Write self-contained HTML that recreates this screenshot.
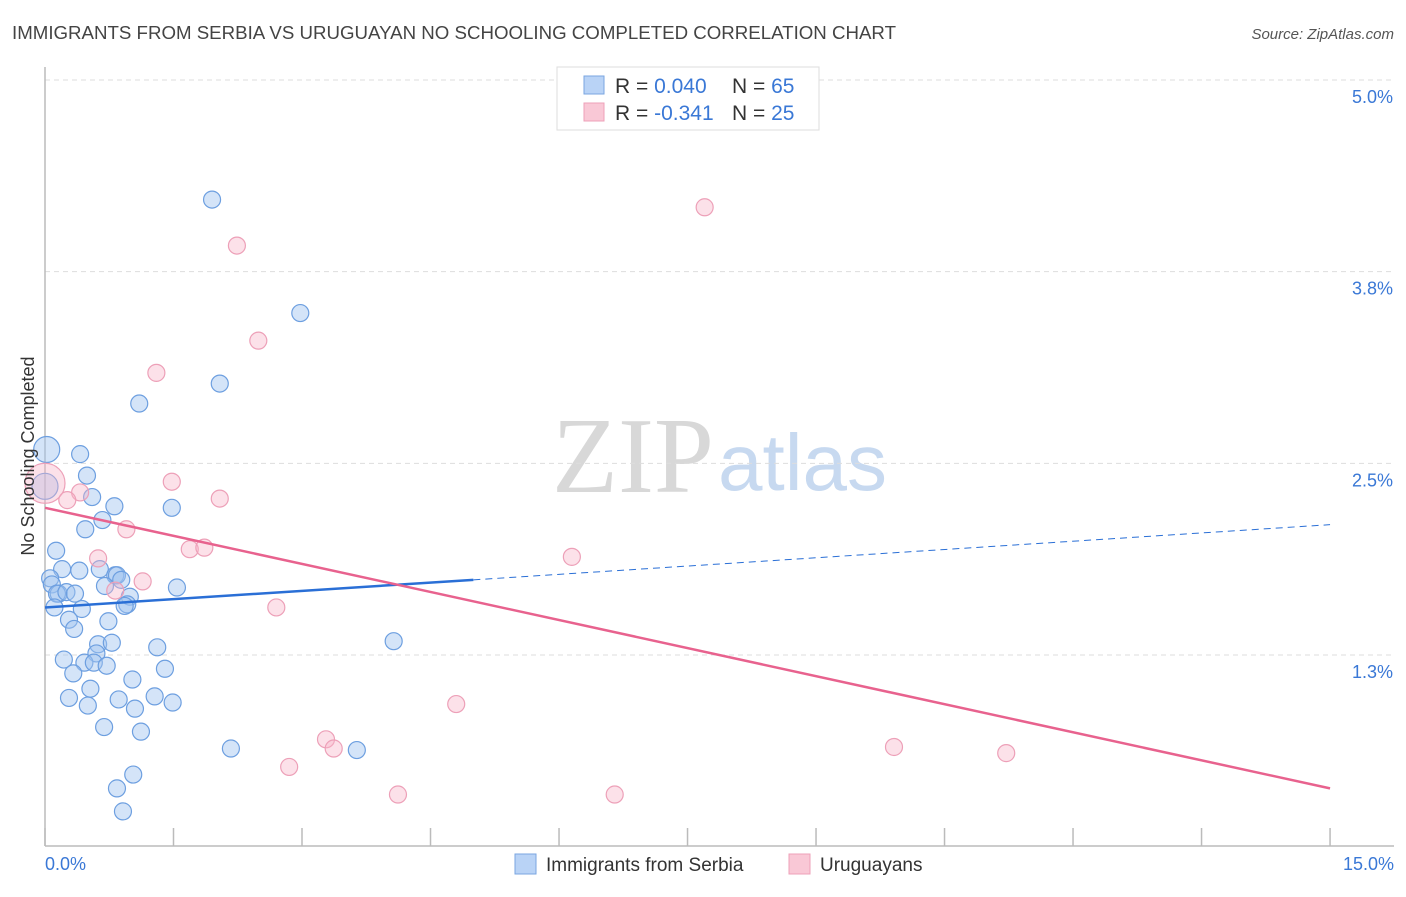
<!DOCTYPE html>
<html><head><meta charset="utf-8"><style>
body{margin:0;background:#fff;font-family:"Liberation Sans",sans-serif}
</style></head><body>
<svg id="c" width="1406" height="892" xmlns="http://www.w3.org/2000/svg">
<text x="12" y="39" font-size="18" fill="#444" textLength="884" lengthAdjust="spacingAndGlyphs">IMMIGRANTS FROM SERBIA VS URUGUAYAN NO SCHOOLING COMPLETED CORRELATION CHART</text>
<text x="1394" y="39" font-size="15" fill="#555" font-style="italic" text-anchor="end">Source: ZipAtlas.com</text>
<text x="714" y="492" font-size="108" font-family="Liberation Serif" fill="#d8d8d8" text-anchor="end">ZIP</text>
<text x="718" y="490" font-size="80" fill="#c7d9f0">atlas</text>
<g id="grid"></g><g id="axes"></g><g id="marks"></g>
<text transform="translate(34,456) rotate(-90)" font-size="18" fill="#333" text-anchor="middle">No Schooling Completed</text>
<g>
<rect x="557" y="67" width="262" height="63" fill="#fff" stroke="#ddd"/>
<rect x="584" y="76" width="20" height="18" fill="#b9d3f6" stroke="#7aa6e0"/>
<rect x="584" y="103" width="20" height="18" fill="#f9c8d6" stroke="#eea0b8"/>
<text x="615" y="93" font-size="21" fill="#333">R = <tspan fill="#3a78d6">0.040</tspan><tspan x="732">N = </tspan><tspan fill="#3a78d6">65</tspan></text>
<text x="615" y="120" font-size="21" fill="#333">R = <tspan fill="#3a78d6">-0.341</tspan><tspan x="732">N = </tspan><tspan fill="#3a78d6">25</tspan></text>
</g>
<g>
<rect x="515" y="854" width="21" height="20" fill="#b9d3f6" stroke="#7aa6e0"/>
<text x="546" y="871" font-size="19" fill="#333">Immigrants from Serbia</text>
<rect x="789" y="854" width="21" height="20" fill="#f9c8d6" stroke="#eea0b8"/>
<text x="820" y="871" font-size="19" fill="#333">Uruguayans</text>
</g>
</svg>
<script>
const blueX=[1.95,2.98,2.04,1.10,0.02,0.41,0.49,0.00,0.55,1.48,0.81,0.67,0.47,0.13,0.20,0.40,0.64,0.82,0.84,0.89,0.06,0.08,0.16,0.14,0.25,0.35,0.70,0.99,0.96,0.93,1.54,0.11,0.43,0.28,0.74,0.34,1.31,0.62,0.78,0.60,4.07,0.22,0.46,0.57,0.72,1.40,0.33,1.02,0.53,0.28,1.28,0.86,1.49,0.50,1.05,0.69,1.12,2.17,3.64,1.03,0.84,0.91];
const blueY=[4.22,3.48,3.02,2.89,2.59,2.56,2.42,2.35,2.28,2.21,2.22,2.13,2.07,1.93,1.81,1.80,1.81,1.77,1.77,1.74,1.75,1.71,1.65,1.65,1.66,1.65,1.70,1.63,1.58,1.57,1.69,1.56,1.55,1.48,1.47,1.42,1.30,1.32,1.33,1.26,1.34,1.22,1.20,1.20,1.18,1.16,1.13,1.09,1.03,0.97,0.98,0.96,0.94,0.92,0.90,0.78,0.75,0.64,0.63,0.47,0.38,0.23];
const pinkX=[2.24,7.70,2.49,1.30,1.48,0.00,0.41,0.26,2.04,0.95,0.62,1.69,1.86,1.14,0.82,6.15,2.70,4.80,3.28,3.37,2.85,4.12,6.65,9.91,11.22];
const pinkY=[3.92,4.17,3.30,3.09,2.38,2.37,2.31,2.26,2.27,2.07,1.88,1.94,1.95,1.73,1.67,1.89,1.56,0.93,0.70,0.64,0.52,0.34,0.34,0.65,0.61];
const blueTrend=[1.56,2.10];const blueSolidEnd=5.0;
const pinkTrend=[2.21,0.38];
const yTicks=[5.0,3.75,2.5,1.25];const yTickLabels=["5.0%","3.8%","2.5%","1.3%"];
const xTicks=[0,1.5,3,4.5,6,7.5,9,10.5,12,13.5,15];
const NS="http://www.w3.org/2000/svg";
const X=v=>45+v*85.67, Y=v=>80+(5-v)*153.33;
function mk(t,a,p){const e=document.createElementNS(NS,t);for(const k in a)e.setAttribute(k,a[k]);document.getElementById(p).appendChild(e);return e;}
yTicks.forEach((v,i)=>{
 const l=mk('line',{x1:45,x2:1394,y1:Y(v),y2:Y(v),stroke:'#ddd','stroke-dasharray':'5,4'},'grid');
 
 
 const t=mk('text',{x:1393,y:Y(v)+23,'font-size':18,fill:'#3a78d6','text-anchor':'end'},'axes');t.textContent=yTickLabels[i];
 
 
});
const ax=mk('line',{x1:45,x2:45,y1:67,y2:846,stroke:'#bbb','stroke-width':1.5},'axes');


const bx=mk('line',{x1:45,x2:1394,y1:846,y2:846,stroke:'#bbb','stroke-width':1.5},'axes');


xTicks.forEach(v=>{const t=mk('line',{x1:X(v),x2:X(v),y1:828,y2:846,stroke:'#bbb','stroke-width':1.5},'axes');
 
 });
const xl=mk('text',{x:45,y:870,'font-size':18,fill:'#3a78d6'},'axes');xl.textContent='0.0%';


const xr=mk('text',{x:1394,y:870,'font-size':18,fill:'#3a78d6','text-anchor':'end'},'axes');xr.textContent='15.0%';


blueX.forEach((v,i)=>{const big=(i==4||i==7);const c=mk('circle',{cx:X(v),cy:Y(blueY[i]),r:big?13:8.5,fill:'rgba(160,195,240,0.45)',stroke:'#6d9fe0','stroke-width':1.2},'marks');
 
 });
pinkX.forEach((v,i)=>{const big=(i==5);const c=mk('circle',{cx:X(v),cy:Y(pinkY[i]),r:big?20:8.5,fill:'rgba(248,180,200,0.4)',stroke:'#eda0b8','stroke-width':1.2},'marks');
 
 });
const bl=v=>blueTrend[0]+(blueTrend[1]-blueTrend[0])*v/15;
const l1=mk('line',{x1:X(0),y1:Y(bl(0)),x2:X(blueSolidEnd),y2:Y(bl(blueSolidEnd)),stroke:'#2a6fd6','stroke-width':2.5},'marks');


const l2=mk('line',{x1:X(blueSolidEnd),y1:Y(bl(blueSolidEnd)),x2:X(15),y2:Y(bl(15)),stroke:'#2a6fd6','stroke-width':1,'stroke-dasharray':'7,5'},'marks');


const l3=mk('line',{x1:X(0),y1:Y(pinkTrend[0]),x2:X(15),y2:Y(pinkTrend[1]),stroke:'#e8628e','stroke-width':2.5},'marks');


</script>
</body></html>
